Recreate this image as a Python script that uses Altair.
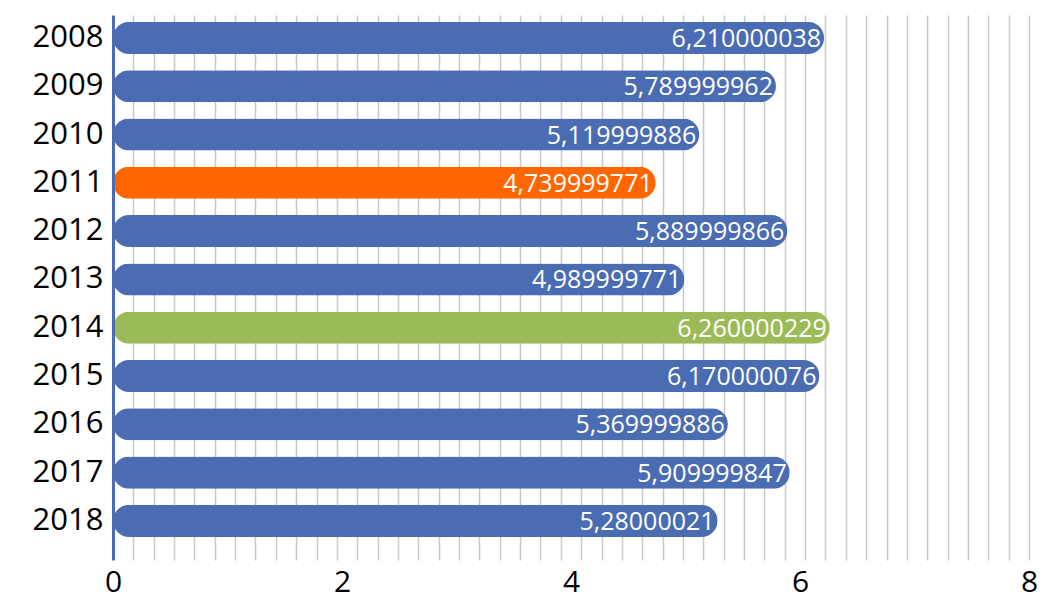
import altair as alt
import pandas as pd

years = ["2008", "2009", "2010", "2011", "2012", "2013", "2014", "2015", "2016", "2017", "2018"]
values = [6.210000038, 5.789999962, 5.119999886, 4.739999771, 5.889999866, 4.989999771,
          6.260000229, 6.170000076, 5.369999886, 5.909999847, 5.28000021]
labels = ["6,210000038", "5,789999962", "5,119999886", "4,739999771", "5,889999866", "4,989999771",
          "6,260000229", "6,170000076", "5,369999886", "5,909999847", "5,28000021"]
colors = ["#4a6cb2", "#4a6cb2", "#4a6cb2", "#ff6600", "#4a6cb2", "#4a6cb2",
          "#9bbb59", "#4a6cb2", "#4a6cb2", "#4a6cb2", "#4a6cb2"]
x_tick_values = [0, 2, 4, 6, 8]
grid_values = [round(8 * k / 45, 5) for k in range(1, 46)]

df = pd.DataFrame({"year": years, "value": values, "label": labels, "color": colors})

FONT = "Open Sans"

xscale = alt.Scale(domain=[0, 8], nice=False, zero=True)
yscale = alt.Scale(paddingInner=0.337, paddingOuter=0.31, align=0.23)

yaxis = alt.Axis(title=None, ticks=False, grid=False, domain=True, domainColor="#4a6cb2",
                 domainWidth=3, labelFont=FONT, labelFontSize=31, labelColor="#000000",
                 labelPadding=10, zindex=1)

bars = alt.Chart(df).mark_bar(cornerRadius=16).encode(
    x=alt.X("value:Q", scale=xscale,
            axis=alt.Axis(title=None, orient="bottom", values=grid_values, labels=False,
                          ticks=False, domain=False, grid=True, gridColor="#c8c8c8",
                          gridWidth=1.5)),
    y=alt.Y("year:N", sort=years, scale=yscale, axis=yaxis),
    color=alt.Color("color:N", scale=None),
)

text = alt.Chart(df).mark_text(align="right", baseline="middle", dx=-3, dy=1,
                               font=FONT, fontSize=25, color="white").encode(
    x=alt.X("value:Q", scale=xscale,
            axis=alt.Axis(title=None, orient="bottom", values=x_tick_values, grid=False,
                          ticks=False, domain=False, labelFont=FONT, labelFontSize=30,
                          labelColor="#000000", labelPadding=7, labelFlush=False,
                          format="d")),
    y=alt.Y("year:N", sort=years, scale=yscale, axis=yaxis),
    text="label:N",
)

chart = alt.layer(bars, text).resolve_axis(x="independent").properties(
    width=916, height=545,
    autosize=alt.AutoSizeParams(type="none"),
    padding={"left": 105, "top": 7, "right": 9, "bottom": 40},
).configure_view(stroke=None)

chart.save("out.html", embed_options={"renderer": "svg", "actions": False})
